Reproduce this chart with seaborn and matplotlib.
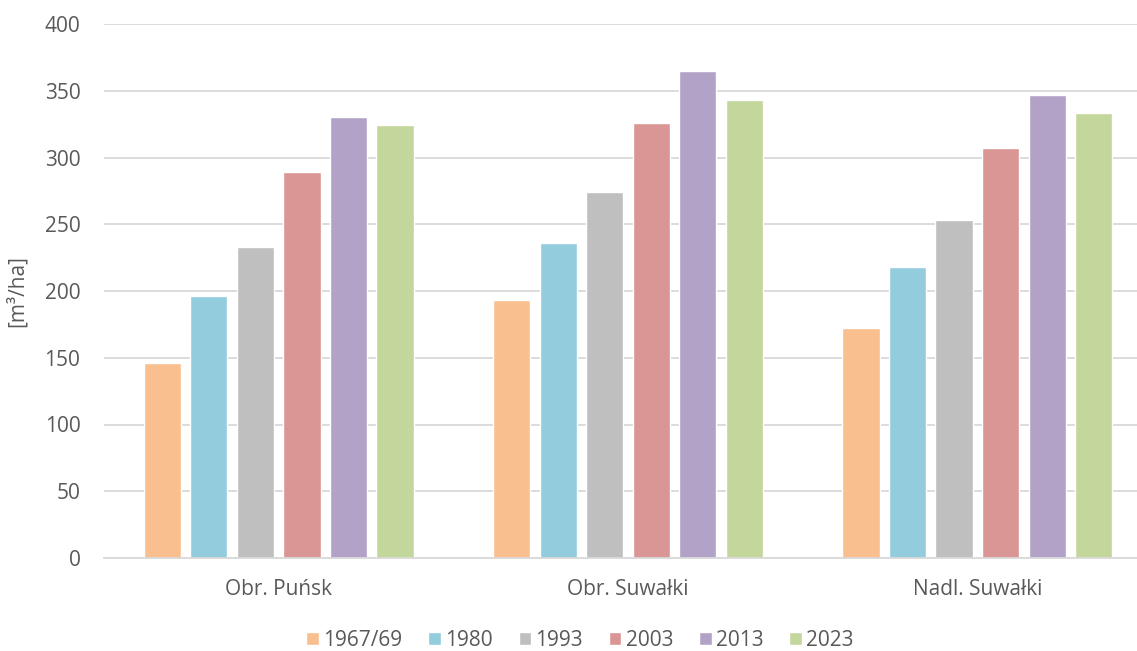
import pandas as pd
import matplotlib.pyplot as plt
import seaborn as sns

# data
categories = ['Obr. Puńsk', 'Obr. Suwałki', 'Nadl. Suwałki']
years = ['1967/69', '1980', '1993', '2003', '2013', '2023']
v_1967 = [146, 193, 172]
v_1980 = [196, 236, 218]
v_1993 = [233, 274, 253]
v_2003 = [289, 326, 307]
v_2013 = [330, 365, 347]
v_2023 = [324, 343, 333]
palette = ['#F9BF8F', '#93CDDD', '#BFBFBF', '#D99694', '#B3A2C7', '#C3D69B']

series = [v_1967, v_1980, v_1993, v_2003, v_2013, v_2023]
rows = []
for year, vals in zip(years, series):
    for cat, v in zip(categories, vals):
        rows.append({'cat': cat, 'year': year, 'value': v})
df = pd.DataFrame(rows)

sns.set_style('white')
plt.rcParams['font.family'] = ['Open Sans', 'DejaVu Sans']
grey = '#595959'
fs = 15

fig = plt.figure(figsize=(11.37, 6.51), dpi=100)
# plot area runs a bit past the right edge, as in the reference
ax = fig.add_axes([104 / 1137, 93 / 651, 1048 / 1137, 534 / 651])

sns.barplot(data=df, x='cat', y='value', hue='year', order=categories,
            hue_order=years, palette=palette, width=0.80, gap=0.2,
            saturation=1, ax=ax, legend=True)

ax.set_ylim(0, 400)
ax.set_yticks(range(0, 401, 50))
ax.set_xlim(-0.5, 2.5)
ax.yaxis.grid(True, color='#D9D9D9', linewidth=1.3)
ax.set_axisbelow(True)
for s in ['top', 'right', 'left']:
    ax.spines[s].set_visible(False)
ax.spines['bottom'].set_color('#D9D9D9')
ax.spines['bottom'].set_linewidth(1.3)
ax.tick_params(axis='both', length=0, labelsize=fs, labelcolor=grey)
ax.tick_params(axis='y', pad=17)
ax.tick_params(axis='x', pad=15)
ax.set_xlabel('')
ax.set_ylabel('[m³/ha]', fontsize=fs, color=grey)
ax.yaxis.set_label_coords(-76 / 1048, 0.5)

handles, labels = ax.get_legend_handles_labels()
ax.get_legend().remove()
fig.legend(handles, labels, loc='center', bbox_to_anchor=(580 / 1137, 1 - 640 / 651),
           ncol=6, frameon=False, fontsize=fs, handlelength=0.6, handleheight=0.6,
           handletextpad=0.2, columnspacing=1.25, labelcolor=grey)

fig.savefig('out.png', dpi=100)
